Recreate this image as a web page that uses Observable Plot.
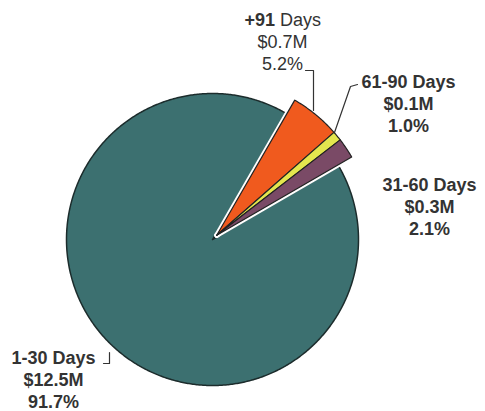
<!DOCTYPE html>
<html>
<head>
<meta charset="utf-8">
<script src="https://cdn.jsdelivr.net/npm/d3@7"></script>
<script src="https://cdn.jsdelivr.net/npm/@observablehq/plot@0.6"></script>
<style>
  html, body { margin: 0; padding: 0; background: #fff; }
  #chart svg { display: block; }
</style>
</head>
<body>
<div id="chart"></div>
<script>
// ---- data ----
const categories = ["+91 Days", "61-90 Days", "31-60 Days", "1-30 Days"];
const amounts = ["$0.7M", "$0.1M", "$0.3M", "$12.5M"];
const percents = [5.2, 1.0, 2.1, 91.7];
const exploded = [true, true, true, false];

// ---- styles / layout ----
const colors = ["#f05a1e", "#e4e64e", "#7a4a66", "#3c7070"];
const W = 485, H = 411;
const CX = 212, CY = 239;           // pie centre in pixels
const R = 146, RX = 156, OFF = 6;    // radius, exploded radius, explode offset
const START = 30;                     // first slice starts 30deg clockwise from north
const labelPos = {                    // label centre x and first baseline (pixels)
  "+91 Days":   {x: 282, y: 25, weight: "normal"},
  "61-90 Days": {x: 408, y: 87, weight: "bold"},
  "31-60 Days": {x: 429, y: 190, weight: "bold"},
  "1-30 Days":  {x: 53,  y: 363, weight: "bold"}
};
const LH = 22;
const leaders = {
  "+91 Days":   [[305, 70], [313, 70], [313, 110]],
  "61-90 Days": [[357, 84], [350, 86], [334, 132]],
  "1-30 Days":  [[103, 363], [109, 363], [109, 352]]
};

// ---- geometry from data ----
const rad = d => d * Math.PI / 180;
let acc = START;
const slices = categories.map((c, i) => {
  const a0 = acc; acc += percents[i] * 3.6;
  return {c, a0, a1: acc, ex: exploded[i]};
});
const exS = slices.filter(s => s.ex);
const exMid = (d3.min(exS, s => s.a0) + d3.max(exS, s => s.a1)) / 2;
const pts = [];
for (const s of slices) {
  const r = s.ex ? RX : R;
  const ox = s.ex ? OFF * Math.sin(rad(exMid)) : 0;
  const oy = s.ex ? -OFF * Math.cos(rad(exMid)) : 0;
  pts.push({c: s.c, ex: s.ex, x: CX + ox, y: CY + oy});
  const n = Math.max(2, Math.ceil((s.a1 - s.a0) * 2));
  for (let k = 0; k <= n; k++) {
    const a = rad(s.a0 + (s.a1 - s.a0) * k / n);
    pts.push({c: s.c, ex: s.ex, x: CX + ox + r * Math.sin(a), y: CY + oy - r * Math.cos(a)});
  }
}
const mainPts = pts.filter(p => !p.ex);
const exPts = pts.filter(p => p.ex);

const textRows = [];
categories.forEach((c, i) => {
  const L = labelPos[c];
  const lines = [c, amounts[i], percents[i].toFixed(1) + "%"];
  lines.forEach((t, j) => textRows.push({c, t, j, x: L.x, y: L.y + j * LH, weight: L.weight}));
});
const boldRows = textRows.filter(r => r.weight === "bold");
const normRows = textRows.filter(r => r.weight === "normal" && r.j > 0);
const splitRow = textRows.filter(r => r.weight === "normal" && r.j === 0)
  .map(r => ({...r, head: r.t.split(" ")[0], tail: r.t.split(" ").slice(1).join(" ")}));

const leaderPts = [];
for (const c of Object.keys(leaders)) leaders[c].forEach(([x, y]) => leaderPts.push({c, x, y}));

const font = "'Liberation Sans', Arial, sans-serif";

const chart = Plot.plot({
  width: W, height: H,
  margin: 0,
  x: {domain: [0, W], range: [0, W], axis: null},
  y: {domain: [0, H], range: [0, H], axis: null},
  color: {domain: categories, range: colors},
  style: {background: "#fff", fontFamily: font},
  marks: [
    Plot.line(mainPts, {x: "x", y: "y", z: "c", fill: "c", stroke: "#1c2c2c", strokeWidth: 1.5, curve: "linear-closed"}),
    Plot.line(exPts, {x: "x", y: "y", z: "c", fill: "c", stroke: "#fff", strokeWidth: 5, strokeLinejoin: "round", curve: "linear-closed"}),
    Plot.line(exPts, {x: "x", y: "y", z: "c", fill: "c", stroke: "#222", strokeWidth: 1.2, strokeLinejoin: "round", curve: "linear-closed"}),
    Plot.line(leaderPts, {x: "x", y: "y", z: "c", stroke: "#333", strokeWidth: 1.2}),
    Plot.text(boldRows, {x: "x", y: "y", text: "t", lineAnchor: "bottom", fontSize: 18, fontWeight: "bold", fill: "#333"}),
    Plot.text(normRows, {x: "x", y: "y", text: "t", lineAnchor: "bottom", fontSize: 18, fill: "#333"}),
    Plot.text(splitRow, {x: "x", y: "y", text: "head", lineAnchor: "bottom", textAnchor: "end", dx: -7.5, fontSize: 18, fontWeight: "bold", fill: "#333"}),
    Plot.text(splitRow, {x: "x", y: "y", text: "tail", lineAnchor: "bottom", textAnchor: "start", dx: -2.5, fontSize: 18, fill: "#333"})
  ]
});
document.getElementById("chart").append(chart);
</script>
</body>
</html>
